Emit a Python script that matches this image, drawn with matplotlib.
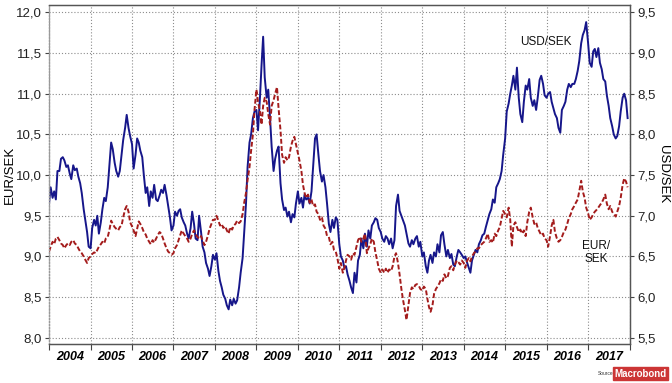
import pandas as pd
import matplotlib
matplotlib.use('Agg')
import matplotlib.pyplot as plt
import matplotlib.dates as mdates
from matplotlib.ticker import FixedLocator, FixedFormatter, FuncFormatter, NullFormatter

plt.rcParams['font.family'] = ['Liberation Sans', 'DejaVu Sans']

# semi-monthly readings (1st and 15th of each month), 2004-2017
usd_sek = [
    7.15, 7.35, 7.22, 7.30, 7.20, 7.55, 7.55, 7.70, 7.72, 7.68, 7.60, 7.62, 7.52, 7.45, 7.62, 7.56, 7.58, 7.48, 7.40, 7.28, 7.08, 6.95, 6.80, 6.62,  # 2004
    6.60, 6.85, 6.95, 6.88, 7.00, 6.78, 6.92, 7.08, 7.22, 7.18, 7.35, 7.60, 7.90, 7.82, 7.65, 7.55, 7.48, 7.55, 7.75, 7.93, 8.08, 8.24, 8.08, 7.98,  # 2005
    7.88, 7.58, 7.75, 7.95, 7.90, 7.80, 7.72, 7.50, 7.28, 7.35, 7.12, 7.30, 7.22, 7.38, 7.20, 7.18, 7.25, 7.32, 7.28, 7.38, 7.25, 7.12, 6.98, 6.82,  # 2006
    6.88, 7.05, 7.00, 7.06, 7.08, 6.98, 6.92, 6.88, 6.78, 6.72, 6.85, 7.05, 6.90, 6.72, 6.70, 7.00, 6.80, 6.62, 6.55, 6.42, 6.35, 6.26, 6.38, 6.52,  # 2007
    6.46, 6.54, 6.32, 6.20, 6.12, 6.03, 5.98, 5.90, 5.85, 5.97, 5.90, 5.98, 5.92, 5.96, 6.12, 6.30, 6.48, 6.80, 7.15, 7.60, 7.90, 8.00, 8.20, 8.28,  # 2008
    8.30, 8.05, 8.45, 8.85, 9.20, 8.70, 8.45, 8.55, 8.20, 7.85, 7.55, 7.70, 7.80, 7.85, 7.40, 7.20, 7.07, 7.10, 6.99, 7.05, 6.92, 7.02, 6.98, 7.15,  # 2009
    7.30, 7.15, 7.22, 7.10, 7.26, 7.20, 7.22, 7.15, 7.30, 7.60, 7.95, 8.00, 7.75, 7.55, 7.42, 7.50, 7.35, 7.15, 6.90, 6.80, 6.95, 6.85, 6.98, 6.95,  # 2010
    6.65, 6.50, 6.45, 6.36, 6.38, 6.28, 6.20, 6.12, 6.05, 6.30, 6.18, 6.45, 6.52, 6.72, 6.60, 6.78, 6.62, 6.82, 6.72, 6.88, 6.92, 6.97, 6.95, 6.85,  # 2011
    6.80, 6.72, 6.68, 6.75, 6.72, 6.65, 6.72, 6.60, 6.70, 7.12, 7.26, 7.06, 7.00, 6.95, 6.88, 6.78, 6.66, 6.62, 6.70, 6.65, 6.72, 6.75, 6.62, 6.68,  # 2012
    6.50, 6.55, 6.38, 6.30, 6.45, 6.52, 6.42, 6.55, 6.50, 6.65, 6.55, 6.76, 6.80, 6.65, 6.50, 6.58, 6.48, 6.53, 6.40, 6.38, 6.50, 6.58, 6.55, 6.52,  # 2013
    6.48, 6.50, 6.42, 6.36, 6.30, 6.45, 6.52, 6.58, 6.55, 6.65, 6.70, 6.76, 6.78, 6.86, 6.95, 7.02, 7.08, 7.20, 7.16, 7.35, 7.40, 7.45, 7.55, 7.75,  # 2014
    7.95, 8.28, 8.38, 8.50, 8.60, 8.72, 8.55, 8.82, 8.45, 8.25, 8.15, 8.40, 8.60, 8.55, 8.68, 8.45, 8.35, 8.42, 8.30, 8.45, 8.67, 8.72, 8.62, 8.48,  # 2015
    8.45, 8.50, 8.52, 8.40, 8.32, 8.25, 8.20, 8.08, 8.02, 8.30, 8.35, 8.40, 8.55, 8.62, 8.58, 8.62, 8.62, 8.68, 8.78, 8.90, 9.12, 9.22, 9.28, 9.38,  # 2016
    9.12, 8.88, 8.83, 9.02, 9.05, 8.95, 9.06, 8.88, 8.80, 8.68, 8.65, 8.48, 8.35, 8.20, 8.10, 8.00, 7.95, 7.98, 8.10, 8.28, 8.45, 8.50, 8.42, 8.20,  # 2017
]

eur_sek = [
    9.06, 9.12, 9.18, 9.15, 9.22, 9.24, 9.20, 9.16, 9.14, 9.10, 9.14, 9.16, 9.14, 9.18, 9.20, 9.16, 9.14, 9.10, 9.06, 9.04, 9.00, 8.96, 8.92, 8.98,  # 2004
    9.00, 9.03, 9.05, 9.04, 9.08, 9.12, 9.15, 9.18, 9.16, 9.22, 9.24, 9.32, 9.44, 9.40, 9.36, 9.34, 9.32, 9.36, 9.38, 9.48, 9.58, 9.62, 9.55, 9.42,  # 2005
    9.37, 9.32, 9.25, 9.34, 9.43, 9.40, 9.35, 9.30, 9.27, 9.22, 9.18, 9.15, 9.20, 9.17, 9.22, 9.26, 9.30, 9.28, 9.22, 9.16, 9.10, 9.06, 9.04, 9.02,  # 2006
    9.04, 9.10, 9.14, 9.20, 9.26, 9.32, 9.28, 9.25, 9.22, 9.18, 9.22, 9.28, 9.32, 9.27, 9.24, 9.22, 9.25, 9.20, 9.14, 9.18, 9.26, 9.34, 9.40, 9.45,  # 2007
    9.45, 9.50, 9.44, 9.38, 9.40, 9.35, 9.37, 9.32, 9.28, 9.36, 9.33, 9.38, 9.40, 9.44, 9.41, 9.43, 9.52, 9.66, 9.78, 9.94, 10.10, 10.30, 10.50, 10.80,  # 2008
    11.05, 10.90, 10.78, 10.62, 10.85, 10.95, 10.90, 10.75, 10.62, 10.85, 10.92, 11.00, 11.08, 10.82, 10.55, 10.25, 10.15, 10.22, 10.18, 10.22, 10.35, 10.42, 10.47, 10.38,  # 2009
    10.27, 10.18, 10.05, 9.88, 9.78, 9.72, 9.76, 9.66, 9.70, 9.62, 9.64, 9.55, 9.52, 9.45, 9.48, 9.38, 9.34, 9.25, 9.24, 9.15, 9.18, 9.08, 9.06, 8.98,  # 2010
    8.85, 8.92, 8.80, 8.86, 8.95, 9.02, 9.00, 8.96, 9.04, 9.02, 9.12, 9.20, 9.24, 9.18, 9.22, 9.28, 9.04, 9.10, 9.15, 9.22, 9.18, 9.05, 8.95, 8.85,  # 2011
    8.80, 8.84, 8.80, 8.85, 8.80, 8.84, 8.82, 8.88, 9.00, 9.04, 8.92, 8.78, 8.60, 8.47, 8.34, 8.22, 8.40, 8.55, 8.62, 8.60, 8.65, 8.66, 8.64, 8.60,  # 2012
    8.58, 8.63, 8.60, 8.48, 8.38, 8.32, 8.40, 8.54, 8.60, 8.63, 8.67, 8.72, 8.70, 8.78, 8.73, 8.76, 8.86, 8.88, 8.83, 8.90, 8.95, 8.93, 8.90, 8.95,  # 2013
    8.92, 8.86, 8.95, 8.98, 8.94, 9.00, 9.04, 9.06, 9.10, 9.10, 9.14, 9.16, 9.18, 9.22, 9.28, 9.18, 9.20, 9.17, 9.28, 9.25, 9.32, 9.36, 9.47, 9.56,  # 2014
    9.52, 9.48, 9.60, 9.45, 9.12, 9.38, 9.42, 9.36, 9.30, 9.33, 9.28, 9.32, 9.25, 9.42, 9.55, 9.60, 9.48, 9.40, 9.42, 9.35, 9.30, 9.26, 9.28, 9.22,  # 2015
    9.20, 9.12, 9.25, 9.38, 9.45, 9.30, 9.22, 9.18, 9.20, 9.24, 9.30, 9.33, 9.40, 9.47, 9.52, 9.58, 9.62, 9.66, 9.70, 9.80, 9.93, 9.80, 9.72, 9.60,  # 2016
    9.53, 9.45, 9.48, 9.52, 9.55, 9.57, 9.60, 9.63, 9.66, 9.70, 9.76, 9.65, 9.58, 9.62, 9.55, 9.52, 9.49, 9.55, 9.62, 9.72, 9.88, 9.96, 9.92, 9.85,  # 2017
]

year_labels = [str(y) for y in range(2004, 2018)]
eur_ticks = [8.0, 8.5, 9.0, 9.5, 10.0, 10.5, 11.0, 11.5, 12.0]
usd_ticks = [5.5, 6.0, 6.5, 7.0, 7.5, 8.0, 8.5, 9.0, 9.5]

dates = pd.date_range('2004-01-01', periods=len(eur_sek), freq='SMS')

fig = plt.figure(figsize=(6.72, 3.83), dpi=100)
ax2 = fig.add_axes([0.073, 0.102, 0.865, 0.885])
ax = ax2.twinx()
ax.set_zorder(ax2.get_zorder() + 1)
ax.patch.set_visible(False)

blue = '#16168a'
red = '#a41c1c'

ax2.plot(dates, usd_sek, color=blue, lw=1.4)
ax.plot(dates, eur_sek, color=red, lw=1.4, linestyle=(0, (2.5, 1.2)))

# ax holds EUR/SEK but sits on the left
ax.yaxis.tick_left()
ax.yaxis.set_label_position('left')
ax2.yaxis.tick_right()
ax2.yaxis.set_label_position('right')

ax.set_ylim(7.925, 12.09)
ax2.set_ylim(7.925 - 2.5, 12.09 - 2.5)
ax.set_xlim(pd.Timestamp('2004-01-01'), pd.Timestamp('2018-01-08'))

comma = FuncFormatter(lambda v, p: f'{v:.1f}'.replace('.', ','))
ax.yaxis.set_major_locator(FixedLocator(eur_ticks))
ax.yaxis.set_major_formatter(comma)
ax2.yaxis.set_major_locator(FixedLocator(usd_ticks))
ax2.yaxis.set_major_formatter(comma)

year_starts = pd.date_range('2004-01-01', '2018-01-01', freq='YS')
mid_years = [pd.Timestamp(f'{y}-07-02') for y in year_labels]
ax2.xaxis.set_major_locator(FixedLocator(mdates.date2num(year_starts)))
ax2.xaxis.set_major_formatter(NullFormatter())
ax2.xaxis.set_minor_locator(FixedLocator(mdates.date2num(mid_years)))
ax2.xaxis.set_minor_formatter(FixedFormatter(year_labels))
ax2.tick_params(axis='x', which='major', length=4, width=0.8, color='#444444')
ax2.tick_params(axis='x', which='minor', length=0, pad=5, labelsize=9)
for lbl in ax2.get_xticklabels(minor=True):
    lbl.set_fontweight('bold')
    lbl.set_fontstyle('italic')

ax.tick_params(axis='y', length=3, width=0.8, pad=2, labelsize=9.5, color='#444444', labelcolor='#222222')
ax2.tick_params(axis='y', length=3, width=0.8, pad=2, labelsize=9.5, color='#444444', labelcolor='#222222')

ax2.grid(True, which='major', axis='both', color='#8c8c8c', lw=0.8, linestyle=(0, (1, 1.8)))
ax2.set_axisbelow(True)

for a in (ax, ax2):
    for s in a.spines.values():
        s.set_color('#555555')
        s.set_linewidth(0.9)
    a.spines['left'].set_color('#999999')
    a.spines['left'].set_linestyle((0, (1, 1.5)))

ax.set_ylabel('EUR/SEK', fontsize=9.5, va='center')
ax.yaxis.set_label_coords(-0.067, 0.5)
ax2.set_ylabel('USD/SEK', fontsize=9.5, rotation=270, va='center')
ax2.yaxis.set_label_coords(1.057, 0.5)

ax.text(0.855, 0.89, 'USD/SEK', transform=ax.transAxes, fontsize=8.5,
        ha='center', va='center', color='#111111')
ax.text(0.941, 0.27, 'EUR/\nSEK', transform=ax.transAxes, fontsize=8.5,
        ha='center', va='center', color='#111111', linespacing=1.05)

fig.text(0.915, 0.024, 'Source:', fontsize=3.5, ha='right', va='center', color='#333333')
fig.text(0.992, 0.024, 'Macrobond', fontsize=7, fontweight='bold', ha='right', va='center',
         color='white', bbox=dict(boxstyle='square,pad=0.15', facecolor='#cc3535', edgecolor='#cc3535'))

fig.savefig('out.png', dpi=100)
